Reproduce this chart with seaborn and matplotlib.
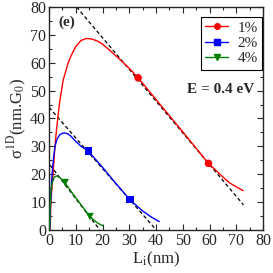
import numpy as np
import pandas as pd
import matplotlib
matplotlib.use('Agg')
import matplotlib.pyplot as plt
import seaborn as sns
from matplotlib.lines import Line2D
from matplotlib.ticker import MultipleLocator

# curves: L (nm) vs sigma^1D (nm.G0)
x_1 = [0.4, 0.75, 1.5, 2.0, 2.5, 3.2, 4.0, 5.3, 6.0, 7.0, 8.0, 10.0, 12.0, 14.0, 16.0, 18.0,
       20.0, 25.0, 30.0, 33.3, 40.0, 50.0, 59.6, 65.0, 67.5, 70.0, 72.6]
y_1 = [0.0, 10.8, 20.0, 27.0, 33.0, 39.4, 46.0, 53.8, 56.0, 59.5, 62.0, 65.8, 68.0, 68.7, 68.5, 67.8,
       66.7, 62.5, 58.0, 54.6, 46.8, 35.2, 23.9, 19.0, 16.9, 15.5, 14.1]

x_2 = [0.3, 0.5, 1.0, 1.5, 2.2, 3.0, 3.5, 4.0, 5.0, 6.0, 7.0, 8.0, 10.0, 12.0, 14.7, 20.0,
       25.0, 30.2, 35.0, 38.0, 41.2]
y_2 = [0.0, 8.0, 18.0, 24.0, 29.9, 32.5, 33.4, 34.1, 34.7, 34.8, 34.5, 33.8, 31.8, 30.0, 28.3, 22.5,
       16.7, 10.9, 6.8, 4.8, 3.0]

x_4 = [0.2, 0.4, 0.75, 1.2, 2.0, 2.9, 4.0, 5.0, 6.0, 8.0, 10.0, 12.0, 15.3, 18.0, 20.3]
y_4 = [0.0, 8.0, 14.3, 17.0, 19.0, 19.4, 18.8, 17.9, 16.9, 14.2, 11.6, 9.0, 4.8, 2.6, 1.4]

# highlighted points
mx_1, my_1 = [33.3, 59.6], [54.6, 23.9]
mx_2, my_2 = [14.7, 30.2], [28.3, 10.9]
mx_4, my_4 = [6.0, 15.3], [17.0, 4.8]

# dashed asymptotes (end points)
dash_1 = ([10.3, 72.7], [80.0, 9.0])
dash_2 = ([0.0, 40.1], [44.0, 0.0])
dash_4 = ([0.4, 19.0], [23.3, 0.0])

labels = ['1%', '2%', '4%']
colors = ['#ff0000', '#0000ff', '#008000']
markers = ['o', 's', 'v']

sns.set_style('ticks')
plt.rcParams['font.family'] = ['Liberation Serif', 'DejaVu Serif']
plt.rcParams['mathtext.fontset'] = 'stix'

fig = plt.figure(figsize=(2.73, 2.73), dpi=100)
ax = fig.add_axes([0.1795, 0.1575, 0.784, 0.817])

curves = pd.concat([
    pd.DataFrame({'L': x_1, 's': y_1, 'strain': '1%'}),
    pd.DataFrame({'L': x_2, 's': y_2, 'strain': '2%'}),
    pd.DataFrame({'L': x_4, 's': y_4, 'strain': '4%'}),
])
points = pd.concat([
    pd.DataFrame({'L': mx_1, 's': my_1, 'strain': '1%'}),
    pd.DataFrame({'L': mx_2, 's': my_2, 'strain': '2%'}),
    pd.DataFrame({'L': mx_4, 's': my_4, 'strain': '4%'}),
])
pal = dict(zip(labels, colors))

for dx, dy in [dash_1, dash_2, dash_4]:
    ax.plot(dx, dy, color='black', ls=(0, (3, 2)), lw=0.9, zorder=2)

sns.lineplot(data=curves, x='L', y='s', hue='strain', palette=pal, lw=1.0,
             sort=False, estimator=None, legend=False, ax=ax, zorder=3)
sns.scatterplot(data=points, x='L', y='s', hue='strain', style='strain', palette=pal,
                markers=dict(zip(labels, markers)), s=30, edgecolor='none',
                legend=False, ax=ax, zorder=4)

ax.set_xlim(0, 80)
ax.set_ylim(0, 80)
ax.xaxis.set_major_locator(MultipleLocator(10))
ax.xaxis.set_minor_locator(MultipleLocator(5))
ax.yaxis.set_major_locator(MultipleLocator(10))
ax.yaxis.set_minor_locator(MultipleLocator(5))
ax.tick_params(which='both', direction='in', top=True, right=True, labelsize=11.5, width=0.8)
ax.tick_params(which='major', length=4)
ax.tick_params(which='minor', length=2.5)
ax.tick_params(axis='x', pad=2)
ax.tick_params(axis='y', pad=2)
for sp in ax.spines.values():
    sp.set_linewidth(1.0)

ax.set_xlabel(r'L$_\mathrm{i}$(nm)', fontsize=12, labelpad=1)
ax.set_ylabel(r'σ$^{\mathrm{1D}}$(nm.G$_0$)', fontsize=12, labelpad=1)

handles = [Line2D([0], [0], color=c, marker=m, lw=1.0, markersize=4) for c, m in zip(colors, markers)]
ax.legend(handles, labels, loc='upper right', fontsize=11, frameon=True, fancybox=False,
          edgecolor='black', framealpha=1, handlelength=1.45, borderpad=0.3, labelspacing=0.1,
          handletextpad=0.65, borderaxespad=0, bbox_to_anchor=(0.997, 0.957))
ax.legend_.get_frame().set_linewidth(0.8)

ax.text(0.042, 0.93, '(e)', transform=ax.transAxes, fontsize=11, fontweight='bold', va='center')
ax.text(0.96, 0.632, 'E = 0.4 eV', transform=ax.transAxes, fontsize=11, fontweight='bold',
        ha='right', va='center')

fig.savefig('out.png', dpi=100)
